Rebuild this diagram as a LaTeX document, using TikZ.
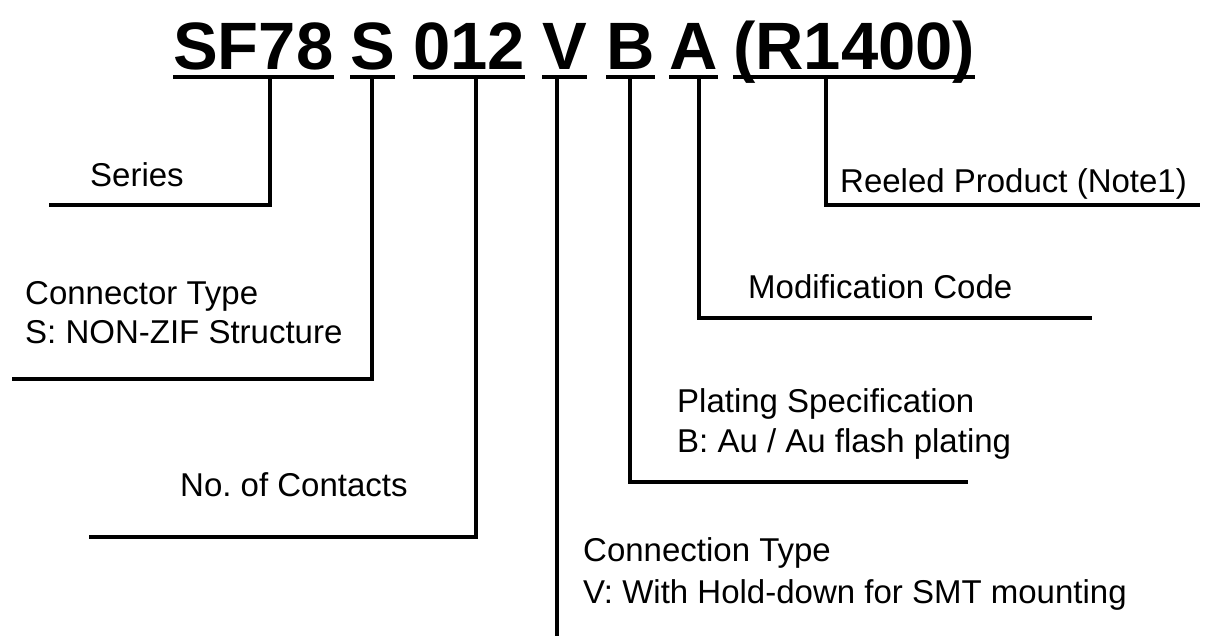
\documentclass[tikz,border=0pt]{standalone}
\usepackage{fontspec}
\setmainfont{Liberation Sans}
\frenchspacing
\begin{document}
\begin{tikzpicture}[x=1pt,y=-1pt,
  conn/.style={line width=3.3pt, line join=miter},
  uline/.style={line width=4.3pt},
  ttl/.style={anchor=base west, inner sep=0pt, font=\bfseries\fontsize{67}{80}\selectfont},
  lbl/.style={anchor=base west, inner sep=0pt, font=\fontsize{33}{40}\selectfont}]
\useasboundingbox (0,0) rectangle (1215,639);
% title tokens
\node[ttl] (t1) at (173,69.5) {SF78};
\node[ttl] (t2) at (350,69.5) {S};
\node[ttl] (t3) at (413,69.5) {012};
\node[ttl] (t4) at (542,69.5) {V};
\node[ttl] (t5) at (606,69.5) {B};
\node[ttl] (t6) at (669,69.5) {A};
\node[ttl] (t7) at (733,69.5) {(R1400)};
\coordinate (ul) at (0,77);
\foreach \n in {t1,t2,t3,t4,t5,t6,t7}
  \draw[uline] (\n.west |- ul) -- (\n.east |- ul);
% labels
\node[lbl] (series) at (90,187) {Series};
\node[lbl] (ct1) at (25,304) {Connector Type};
\node[lbl] (ct2) at (25,343) {S: NON-ZIF Structure};
\node[lbl] (noc) at (180,496) {No.\ of Contacts};
\node[lbl] (cn1) at (583,561) {Connection Type};
\node[lbl] (cn2) at (583,603) {V: With Hold-down for SMT mounting};
\node[lbl] (pl1) at (677,412) {Plating Specification};
\node[lbl] (pl2) at (677,452) {B: Au / Au flash plating};
\node[lbl] (mod) at (748,298) {Modification Code};
\node[lbl] (reel) at (840,193) {Reeled Product (Note1)};
% connectors
\coordinate (a1) at (270,79);  \coordinate (b1) at (270,205); \coordinate (e1) at (49,205);
\coordinate (a2) at (372,79);  \coordinate (b2) at (372,379); \coordinate (e2) at (12,379);
\coordinate (a3) at (476,79);  \coordinate (b3) at (476,537); \coordinate (e3) at (89,537);
\coordinate (a4) at (557,79);  \coordinate (b4) at (557,636);
\coordinate (a5) at (630,79);  \coordinate (b5) at (630,482); \coordinate (e5) at (968,482);
\coordinate (a6) at (699,79);  \coordinate (b6) at (699,318); \coordinate (e6) at (1092,318);
\coordinate (a7) at (826,79);  \coordinate (b7) at (826,205); \coordinate (e7) at (1200,205);
\draw[conn] (a1) -- (b1) -- (e1);
\draw[conn] (a2) -- (b2) -- (e2);
\draw[conn] (a3) -- (b3) -- (e3);
\draw[conn] (a4) -- (b4);
\draw[conn] (a5) -- (b5) -- (e5);
\draw[conn] (a6) -- (b6) -- (e6);
\draw[conn] (a7) -- (b7) -- (e7);
\end{tikzpicture}
\end{document}
